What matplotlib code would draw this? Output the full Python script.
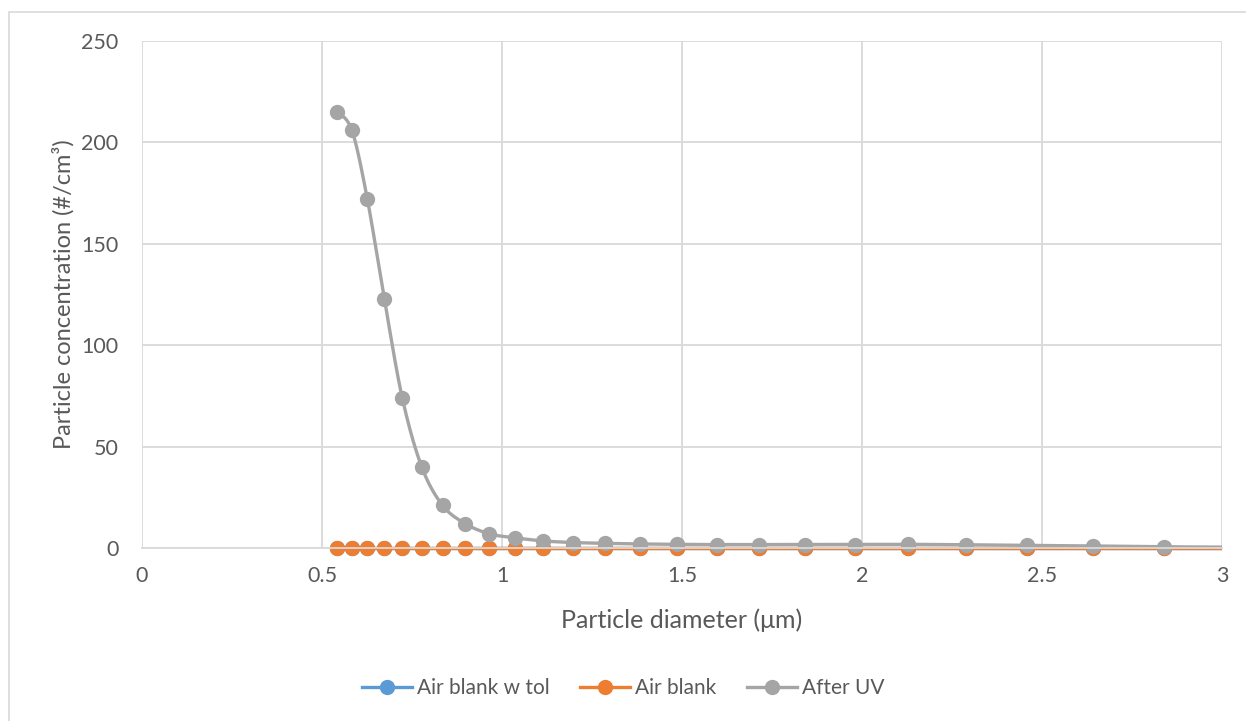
import numpy as np
import matplotlib.pyplot as plt
from matplotlib.lines import Line2D
from matplotlib.patches import Rectangle
from matplotlib.ticker import FuncFormatter

# APS channel midpoints (um) and concentrations (#/cm3)
diameter = [0.542, 0.583, 0.626, 0.673, 0.723, 0.777, 0.835, 0.898, 0.965, 1.037,
            1.114, 1.197, 1.286, 1.382, 1.486, 1.596, 1.715, 1.843, 1.981, 2.129,
            2.288, 2.458, 2.642, 2.839, 3.051]
air_blank_tol = [0.0] * len(diameter)
air_blank = [0.0] * len(diameter)
after_uv = [215, 206, 172, 123, 74, 40, 21, 12, 7, 5,
            3.5, 2.7, 2.3, 2.0, 1.8, 1.7, 1.7, 1.7, 1.7, 1.8,
            1.6, 1.3, 1.0, 0.6, 0.4]

series_names = ["Air blank w tol", "Air blank", "After UV"]
series_colors = ["#5B9BD5", "#ED7D31", "#A5A5A5"]

plt.rcParams['font.family'] = ['Lato', 'DejaVu Sans']
text_color = "#595959"
grid_color = "#D9D9D9"


def smooth(x, y, steps=24):
    # Catmull-Rom style bezier through every point (spreadsheet "smoothed line")
    x = np.asarray(x, float)
    y = np.asarray(y, float)
    px = np.concatenate([[x[0]], x, [x[-1]]])
    py = np.concatenate([[y[0]], y, [y[-1]]])
    t = np.linspace(0, 1, steps)
    xs, ys = [], []
    for i in range(1, len(px) - 2):
        p0 = np.array([px[i], py[i]])
        p3 = np.array([px[i + 1], py[i + 1]])
        c1 = p0 + (p3 - np.array([px[i - 1], py[i - 1]])) / 6
        c2 = p3 - (np.array([px[i + 2], py[i + 2]]) - p0) / 6
        b = ((1 - t) ** 3)[:, None] * p0 + (3 * (1 - t) ** 2 * t)[:, None] * c1 \
            + (3 * (1 - t) * t ** 2)[:, None] * c2 + (t ** 3)[:, None] * p3
        xs.append(b[:, 0])
        ys.append(b[:, 1])
    return np.concatenate(xs), np.concatenate(ys)


fig = plt.figure(figsize=(12.46, 7.21), dpi=100)
ax = fig.add_axes([142 / 1246, 1 - 548 / 721, 1080 / 1246, 507 / 721])

# chart area border
fig.patches.append(Rectangle((8.5 / 1246, -0.1), 1.2, 1 - 11.5 / 721 + 0.1,
                             transform=fig.transFigure, fill=False,
                             edgecolor=grid_color, lw=1.2))

# clip only at the left/right plot edges so markers on the zero line stay whole
clip = Rectangle((0, -0.05), 1, 1.1, transform=ax.transAxes, visible=False)
ax.add_patch(clip)

handles = []
for yvals, name, col in zip([air_blank_tol, air_blank, after_uv], series_names, series_colors):
    sx, sy = smooth(diameter, yvals)
    ln, = ax.plot(sx, sy, color=col, lw=2.4, solid_capstyle='round')
    mk, = ax.plot(diameter, yvals, 'o', color=col, ms=10, mec=col)
    ln.set_clip_path(clip)
    mk.set_clip_path(clip)
    handles.append(Line2D([], [], color=col, lw=2.4, marker='o', ms=10, label=name))

ax.set_xlim(0, 3)
ax.set_ylim(0, 250)
ax.set_xticks(np.arange(0, 3.01, 0.5))
ax.set_yticks(np.arange(0, 251, 50))
ax.xaxis.set_major_formatter(FuncFormatter(lambda v, p: f"{v:g}"))
ax.grid(True, color=grid_color, lw=1.3)
ax.set_axisbelow(True)
for side in ['top', 'right', 'left']:
    ax.spines[side].set_visible(False)
ax.spines['bottom'].set_color(grid_color)
ax.spines['bottom'].set_linewidth(1.3)
ax.tick_params(length=0, labelsize=15.5, labelcolor=text_color)
ax.tick_params(axis='x', pad=13)
ax.tick_params(axis='y', pad=17)

ax.set_xlabel("Particle diameter (μm)", fontsize=18, color=text_color, labelpad=16)
ax.set_ylabel("Particle concentration (#/cm³)", fontsize=17, color=text_color, labelpad=5)

fig.legend(handles=handles, loc='center', bbox_to_anchor=(0.5, 1 - 688 / 721),
           ncol=3, frameon=False, fontsize=15, labelcolor=text_color,
           handlelength=2.4, handletextpad=0.25, columnspacing=1.45)

fig.savefig("out.png", dpi=100)
